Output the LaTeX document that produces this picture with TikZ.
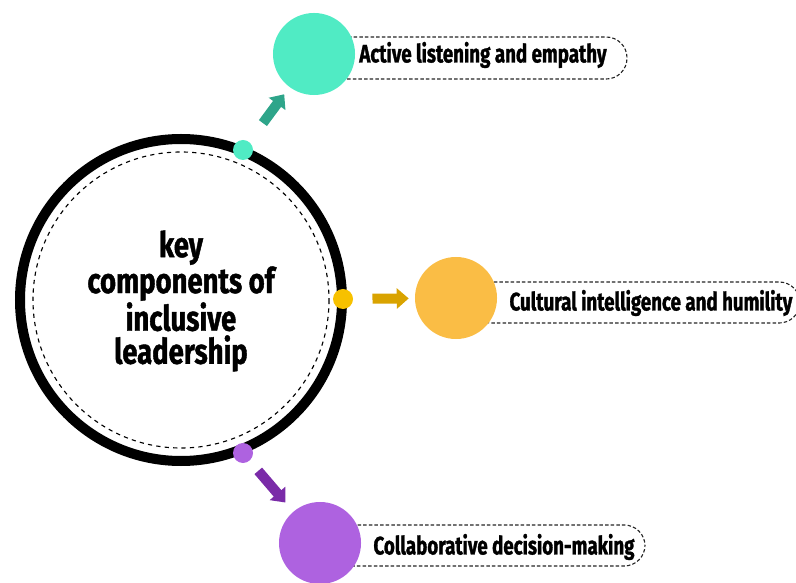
\documentclass[tikz,border=0pt]{standalone}
\usepackage{fontspec}
\setmainfont{Fira Sans}
\newfontfamily\narrowfont[FakeStretch=0.74,FakeBold=1.2]{Fira Sans}
\newfontfamily\hubfont[FakeStretch=0.78,FakeBold=1.2]{Fira Sans}
\usetikzlibrary{arrows.meta}
\definecolor{tealLight}{HTML}{50EBC4}
\definecolor{tealDark}{HTML}{2EA58A}
\definecolor{goldLight}{HTML}{FABD45}
\definecolor{goldDot}{HTML}{F7C100}
\definecolor{goldDark}{HTML}{D9A300}
\definecolor{violetLight}{HTML}{AE62E0}
\definecolor{violetDark}{HTML}{7A2BA8}
\tikzset{
    bigdot/.style={circle,inner sep=0pt,minimum size=2.05cm},
    smalldot/.style={circle,inner sep=0pt,minimum size=0.5cm},
    labelbox/.style={draw=black!85,dash pattern=on 2.5pt off 1.5pt,line width=0.8pt,rounded corners=0.52cm,fill=white},
    labeltext/.style={font=\narrowfont\bfseries\fontsize{18}{20}\selectfont,inner sep=0pt},
    blockarrow/.style={line width=0.25cm,-{Triangle[length=0.3cm,width=0.5cm]}}
}
\begin{document}
\begin{tikzpicture}[x=0.025cm,y=-0.025cm]
    \useasboundingbox (0,0) rectangle (796,583);
    % hub
    \draw[line width=0.25cm] (181,300) circle[radius=161];
    \draw[dashed,line width=0.8pt] (181,300) circle[radius=148];
    \node[align=center,font=\hubfont\bfseries\fontsize{25}{23.5}\selectfont] (hub) at (181,301)
        {key\\components of\\inclusive\\leadership};
    % label boxes
    \draw[labelbox] (320,37) rectangle (627,79);
    \draw[labelbox] (470,282) rectangle (800,323);
    \draw[labelbox] (330,525) rectangle (645,566);
    % dots
    \node[smalldot,fill=tealLight] (dotA) at (243,150) {};
    \node[smalldot,fill=goldDot] (dotB) at (343,299) {};
    \node[smalldot,fill=violetLight] (dotC) at (243,453) {};
    \node[bigdot,fill=tealLight] (bigA) at (314,54) {};
    \node[bigdot,fill=goldLight] (bigB) at (456,298) {};
    \node[bigdot,fill=violetLight] (bigC) at (320,543) {};
    % arrows
    \draw[blockarrow,tealDark,shorten <=0.58cm,shorten >=0.22cm] (dotA) -- (bigA);
    \draw[blockarrow,goldDark,shorten <=0.48cm,shorten >=0.15cm] (dotB) -- (bigB);
    \draw[blockarrow,violetDark,shorten <=0.33cm,shorten >=0.3cm] (dotC) -- (bigC);
    % labels
    \node[labeltext] (txtA) at (483,55) {Active listening and empathy};
    \node[labeltext] (txtB) at (651,303) {Cultural intelligence and humility};
    \node[labeltext] (txtC) at (504,547) {Collaborative decision-making};
\end{tikzpicture}
\end{document}
